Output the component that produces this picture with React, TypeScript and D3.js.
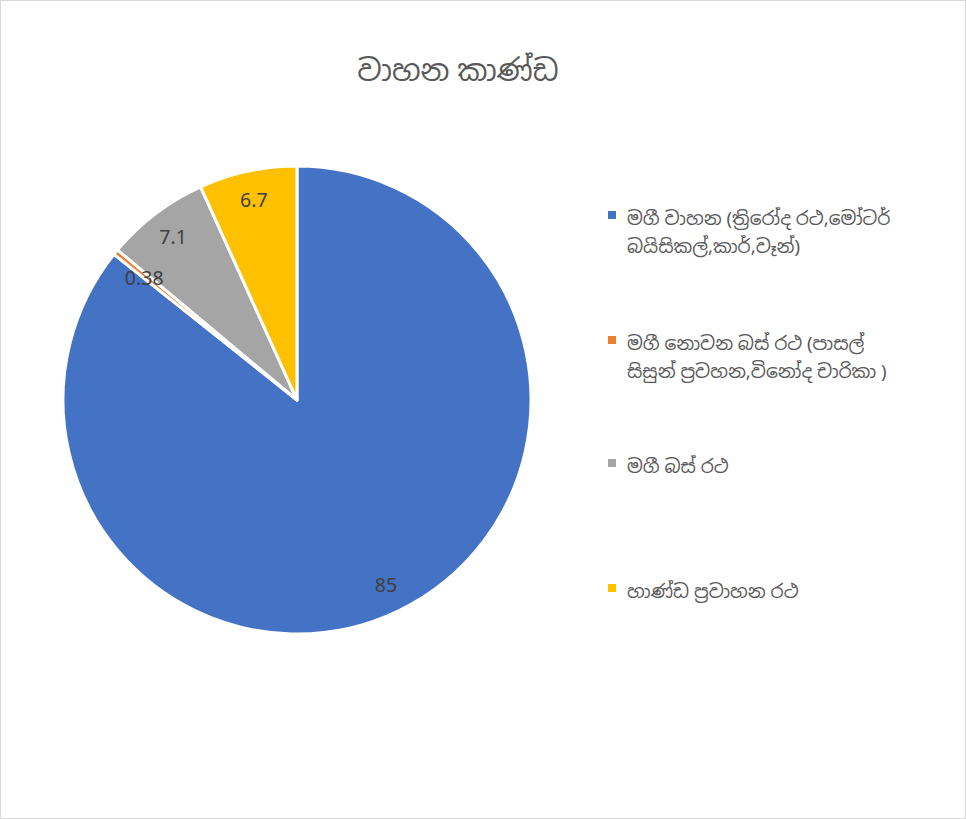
import React from "react";
import * as d3 from "d3";

const categories = [
  "මගී වාහන (ත්‍රිරෝද රථ,මෝටර් බයිසිකල්,කාර්,වෑන්)",
  "මගී නොවන බස් රථ (පාසල් සිසුන් ප්‍රවහන,විනෝද චාරිකා )",
  "මගී බස් රථ",
  "හාණ්ඩ ප්‍රවාහන රථ",
];
const legendLines = [
  ["මගී වාහන (ත්‍රිරෝද රථ,මෝටර්", "බයිසිකල්,කාර්,වෑන්)"],
  ["මගී නොවන බස් රථ (පාසල්", "සිසුන් ප්‍රවහන,විනෝද චාරිකා )"],
  ["මගී බස් රථ"],
  ["හාණ්ඩ ප්‍රවාහන රථ"],
];
const values = [85, 0.38, 7.1, 6.7];
const labels = ["85", "0.38", "7.1", "6.7"];
const colors = ["#4472C4", "#ED7D31", "#A5A5A5", "#FFC000"];
const title = "වාහන කාණ්ඩ";

const W = 966;
const H = 819;
const cx = 297;
const cy = 400;
const R = 234;
const font = "'Noto Sans', 'Noto Sans Sinhala', 'Iskoola Pota', 'Liberation Sans', sans-serif";

export default function App() {
  const pie = d3.pie<number>().sort(null).value((d) => d);
  const arcs = pie(values);
  const arc = d3.arc<d3.PieArcDatum<number>>().innerRadius(0).outerRadius(R);
  const labelArc = d3.arc<d3.PieArcDatum<number>>().innerRadius(205).outerRadius(205);
  const legendY = [217, 342, 465, 590];

  return (
    <svg
      width={W}
      height={H}
      style={{ position: "absolute", left: 0, top: 0 }}
      fontFamily={font}
    >
      <rect x={0.5} y={0.5} width={W - 1} height={H - 1} fill="#fff" stroke="#D9D9D9" />
      <text x={458} y={81} textAnchor="middle" fontSize={30} fill="#595959">
        {title}
      </text>
      <g transform={`translate(${cx},${cy})`}>
        {arcs.map((a, i) => (
          <path key={i} d={arc(a) || ""} fill={colors[i]} stroke="#fff" strokeWidth={3} strokeLinejoin="round" />
        ))}
        {arcs.map((a, i) => {
          const [x, y] = labelArc.centroid(a);
          return (
            <text
              key={i}
              x={x + (i === 1 ? 6 : 0)}
              y={y + (i === 1 ? 7 : 0)}
              textAnchor="middle"
              dominantBaseline="central"
              fontSize={19.5}
              fill="#404040"
            >
              {labels[i]}
            </text>
          );
        })}
      </g>
      {categories.map((c, i) => (
        <g key={i}>
          <rect x={608} y={legendY[i] - 6} width={8} height={8} fill={colors[i]} />
          <text fontSize={18.6} fill="#595959">
            {legendLines[i].map((l, j) => (
              <tspan key={j} x={627} y={legendY[i] + j * 28} dominantBaseline="central">
                {l}
              </tspan>
            ))}
          </text>
        </g>
      ))}
    </svg>
  );
}
